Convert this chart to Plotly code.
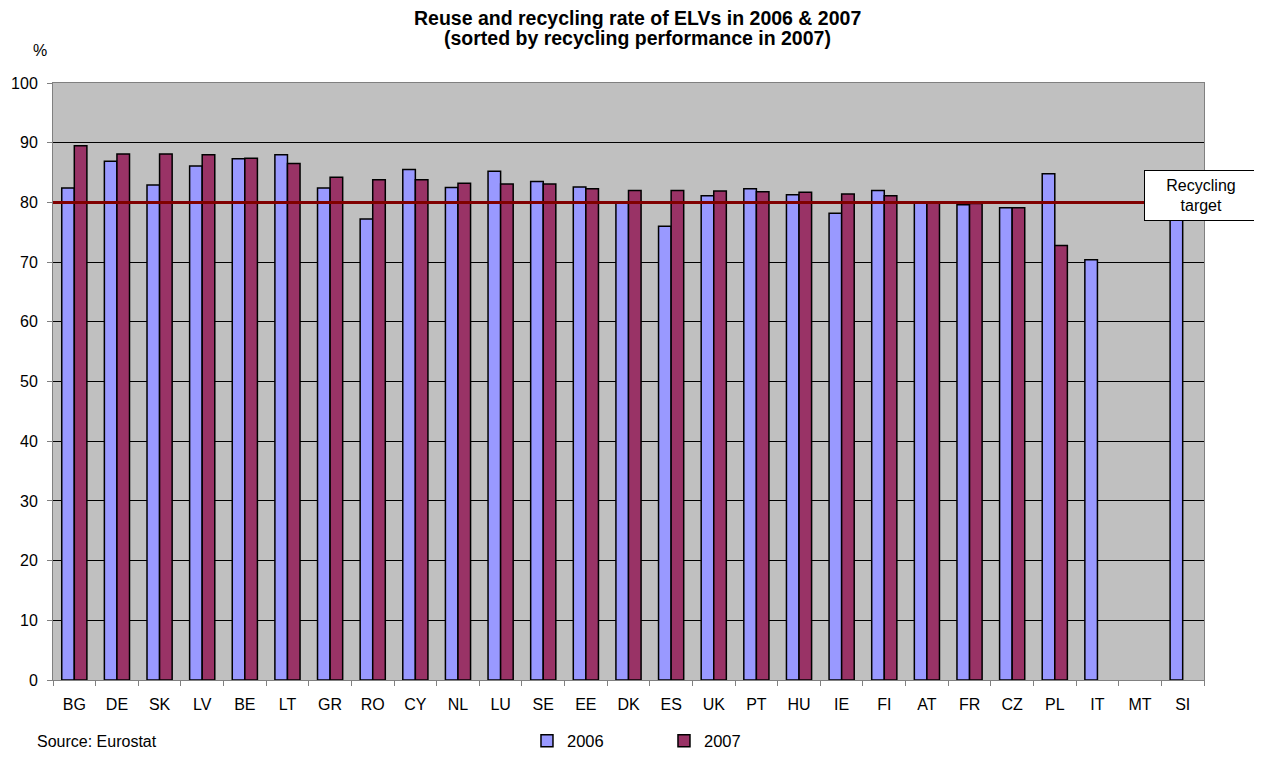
import plotly.graph_objects as go

countries = ["BG", "DE", "SK", "LV", "BE", "LT", "GR", "RO", "CY", "NL", "LU", "SE", "EE", "DK",
             "ES", "UK", "PT", "HU", "IE", "FI", "AT", "FR", "CZ", "PL", "IT", "MT", "SI"]
rate_2006 = [82.4, 86.9, 82.9, 86.1, 87.3, 88.0, 82.4, 77.2, 85.5, 82.5, 85.2, 83.5, 82.6, 80.0,
             76.0, 81.1, 82.3, 81.3, 78.2, 82.0, 80.0, 79.6, 79.1, 84.8, 70.4, None, 80.5]
rate_2007 = [89.5, 88.1, 88.1, 88.0, 87.4, 86.5, 84.2, 83.8, 83.8, 83.2, 83.1, 83.1, 82.3, 82.0,
             82.0, 81.9, 81.8, 81.7, 81.4, 81.1, 80.0, 79.8, 79.1, 72.8, None, None, None]
target = 80
y_ticks = list(range(0, 101, 10))

FONT = "Liberation Sans, Arial, sans-serif"

fig = go.Figure()
fig.add_trace(go.Bar(x=countries, y=rate_2006, name="2006",
                     marker=dict(color="#9999FF", line=dict(color="black", width=1.5))))
fig.add_trace(go.Bar(x=countries, y=rate_2007, name="2007",
                     marker=dict(color="#993366", line=dict(color="black", width=1.5))))

fig.add_shape(type="line", xref="paper", yref="y", x0=0, x1=1, y0=target, y1=target,
              line=dict(color="#800000", width=3), layer="above")

fig.add_annotation(xref="paper", yref="y", x=0.9974, y=81.1, text="Recycling<br>target",
                   showarrow=False, xanchor="center", yanchor="middle",
                   bgcolor="white", bordercolor="black", borderwidth=1,
                   borderpad=1, font=dict(family=FONT, size=16, color="black"),
                   width=110, height=47, align="center")

# title (two lines)
fig.add_annotation(xref="paper", yref="paper", x=0.508, y=1.1089,
                   text="<b>Reuse and recycling rate of ELVs in 2006 & 2007</b>",
                   showarrow=False, xanchor="center", yanchor="middle",
                   font=dict(family=FONT, size=19.5, color="black"))
fig.add_annotation(xref="paper", yref="paper", x=0.508, y=1.0754,
                   text="<b>(sorted by recycling performance in 2007)</b>",
                   showarrow=False, xanchor="center", yanchor="middle",
                   font=dict(family=FONT, size=19.5, color="black"))

fig.add_annotation(xref="paper", yref="paper", x=-0.0035, y=1.055, text="%", showarrow=False,
                   xanchor="right", yanchor="middle", font=dict(family=FONT, size=16, color="black"))
fig.add_annotation(xref="paper", yref="paper", x=-0.0156, y=-0.103, text="Source: Eurostat",
                   showarrow=False, xanchor="left", yanchor="middle",
                   font=dict(family=FONT, size=16, color="black"))

fig.update_layout(
    width=1246, height=742,
    margin=dict(l=45, r=50, t=75, b=70, autoexpand=False),
    paper_bgcolor="white", plot_bgcolor="#C0C0C0",
    barmode="group", bargap=0.41, bargroupgap=0,
    font=dict(family=FONT, size=16, color="black"),
    showlegend=True,
    legend=dict(orientation="h", x=0.4118, xanchor="left", xref="paper",
                y=0.0121, yanchor="middle", yref="container",
                font=dict(family=FONT, size=16.5, color="black"),
                entrywidth=92, entrywidthmode="pixels", itemwidth=30,
                bgcolor="rgba(0,0,0,0)"),
    xaxis=dict(type="category", automargin=False, showline=True, linecolor="#808080",
               linewidth=1, mirror=True,
               ticks="outside", tickson="boundaries", ticklen=5, tickcolor="#808080",
               ticklabelstandoff=10,
               tickfont=dict(family=FONT, size=16, color="black"), showgrid=False),
    yaxis=dict(range=[0, 100], tickvals=y_ticks, automargin=False, showline=True,
               linecolor="#808080", linewidth=1,
               mirror=True, ticks="outside", ticklen=5, tickcolor="#808080",
               ticklabelstandoff=6,
               gridcolor="black", gridwidth=1, zeroline=False,
               tickfont=dict(family=FONT, size=16, color="black")),
)

fig.write_html("out.html")
